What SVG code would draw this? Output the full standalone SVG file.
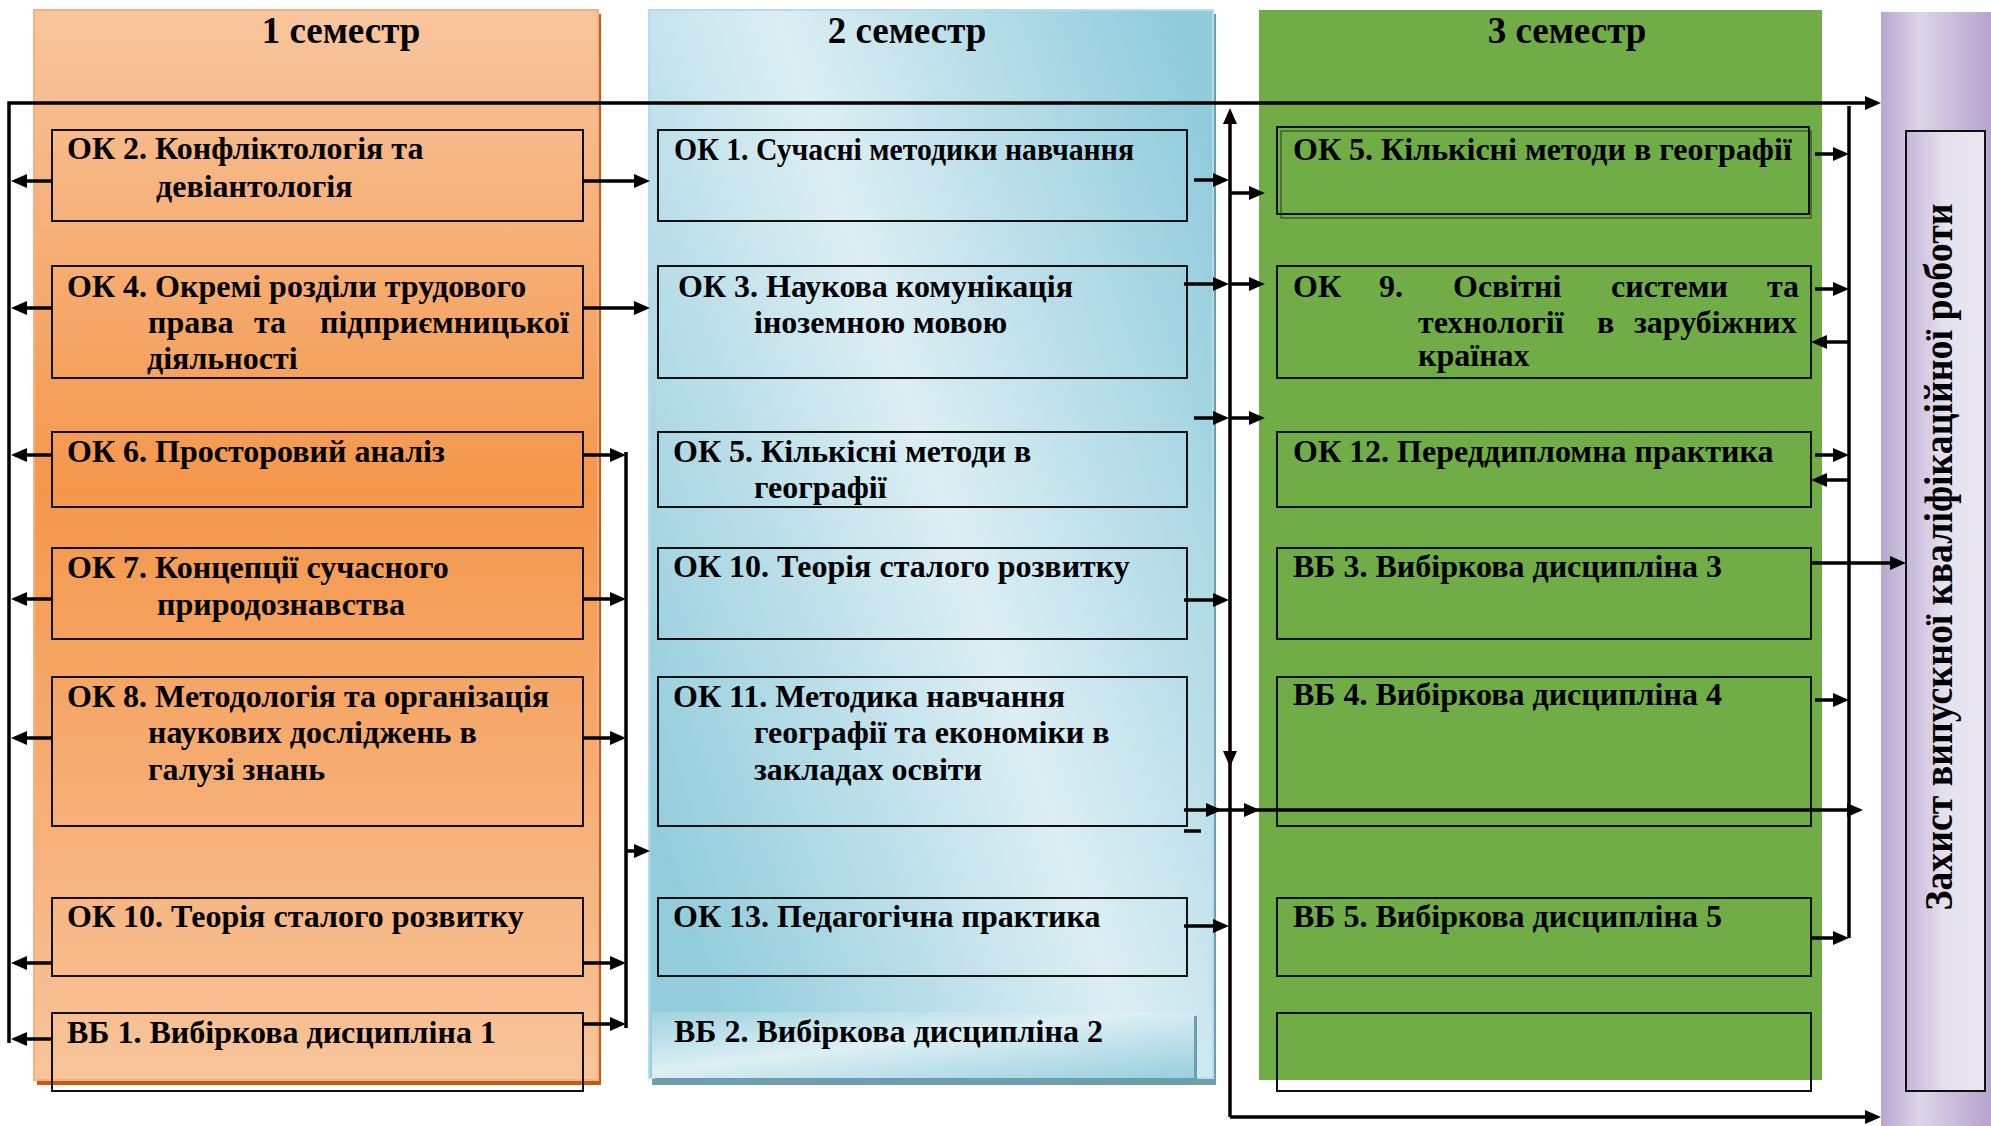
<svg xmlns="http://www.w3.org/2000/svg" width="1991" height="1126" viewBox="0 0 1991 1126">
<defs>
  <linearGradient id="gOrange" x1="0" y1="0" x2="0" y2="1">
    <stop offset="0" stop-color="#F8C59D"/>
    <stop offset="0.45" stop-color="#F4974B"/>
    <stop offset="1" stop-color="#F8C49B"/>
  </linearGradient>
  <linearGradient id="gBlue" x1="1" y1="0.1" x2="0" y2="0.75">
    <stop offset="0" stop-color="#8FCBDB"/>
    <stop offset="0.5" stop-color="#DCEEF4"/>
    <stop offset="1" stop-color="#93CDDC"/>
  </linearGradient>
  <linearGradient id="gBlueBox" x1="0" y1="0" x2="1" y2="1">
    <stop offset="0" stop-color="#9FD3E0"/>
    <stop offset="0.45" stop-color="#DDEFF4"/>
    <stop offset="1" stop-color="#98CFDE"/>
  </linearGradient>
  <linearGradient id="gPurple" x1="0" y1="0" x2="1" y2="0">
    <stop offset="0" stop-color="#B7A7CE"/>
    <stop offset="0.35" stop-color="#DCD5E8"/>
    <stop offset="1" stop-color="#B5A4CC"/>
  </linearGradient>
  <linearGradient id="gPurpleIn" x1="0" y1="0" x2="1" y2="0">
    <stop offset="0" stop-color="#C4B7D9"/>
    <stop offset="0.5" stop-color="#E6E1EE"/>
    <stop offset="1" stop-color="#E9E5F1"/>
  </linearGradient>
  <marker id="ah" markerUnits="userSpaceOnUse" markerWidth="16" markerHeight="14" refX="12" refY="7" orient="auto">
    <path d="M0,0 L16,7 L0,14 z" fill="#000"/>
  </marker>
  <style>
    .box { fill: none; stroke: #111; stroke-width: 2; }
    .t { font-family: "Liberation Serif", "Times New Roman", serif; font-weight: bold; font-size: 32px; fill: #000; }
    .title { font-family: "Liberation Serif", "Times New Roman", serif; font-weight: bold; font-size: 37px; fill: #000; text-anchor: middle; }
    .c { stroke: #000; stroke-width: 3.5; fill: none; }
    .a { marker-end: url(#ah); }
  </style>
</defs>

<rect width="1991" height="1126" fill="#fff"/>

<!-- Panels -->
<g id="panel-1">
  <rect x="37" y="14" width="564" height="1071" fill="#C55A11"/>
  <rect x="34" y="10" width="564" height="1070" fill="url(#gOrange)" stroke="#F4B183" stroke-width="2"/>
  <text class="title" x="341" y="43">1 семестр</text>
</g>
<g id="panel-2">
  <rect x="652" y="14" width="564" height="1071" fill="#6E9EAD"/>
  <rect x="649" y="10" width="564" height="1068" fill="url(#gBlue)" stroke="#B7DEE8" stroke-width="2"/>
  <text class="title" x="907" y="43">2 семестр</text>
</g>
<g id="panel-3">
  <rect x="1259" y="10" width="563" height="1070" fill="#70AD47"/>
  <text class="title" x="1567" y="43">3 семестр</text>
</g>
<g id="panel-4">
  <rect x="1881" y="12" width="110" height="1114" fill="url(#gPurple)"/>
  <rect x="1906" y="131" width="79" height="960" fill="url(#gPurpleIn)" stroke="#111" stroke-width="2"/>
  <text class="t" style="font-size:39px" text-anchor="middle" transform="translate(1952,557) rotate(-90)" textLength="707" lengthAdjust="spacingAndGlyphs">Захист випускної кваліфікаційної роботи</text>
</g>

<!-- Column 1 nodes -->
<g id="n-ok2">
  <rect class="box" x="52" y="130" width="531" height="91"/>
  <text class="t" x="67" y="159">ОК 2. Конфліктологія та</text>
  <text class="t" x="156" y="197">девіантологія</text>
</g>
<g id="n-ok4">
  <rect class="box" x="52" y="266" width="531" height="112"/>
  <text class="t" x="67" y="297">ОК 4. Окремі розділи трудового</text>
  <text class="t" y="333"><tspan x="148">права</tspan> <tspan x="254">та</tspan> <tspan x="320">підприємницької</tspan></text>
  <text class="t" x="147" y="369">діяльності</text>
</g>
<g id="n-ok6">
  <rect class="box" x="52" y="432" width="531" height="75"/>
  <text class="t" x="67" y="462">ОК 6. Просторовий аналіз</text>
</g>
<g id="n-ok7">
  <rect class="box" x="52" y="548" width="531" height="91"/>
  <text class="t" x="67" y="578">ОК 7. Концепції сучасного</text>
  <text class="t" x="157" y="615">природознавства</text>
</g>
<g id="n-ok8">
  <rect class="box" x="52" y="677" width="531" height="149"/>
  <text class="t" x="67" y="707">ОК 8. Методологія та організація</text>
  <text class="t" x="148" y="743">наукових досліджень в</text>
  <text class="t" x="148" y="780">галузі знань</text>
</g>
<g id="n-ok10-s1">
  <rect class="box" x="52" y="898" width="531" height="78"/>
  <text class="t" x="67" y="927">ОК 10. Теорія сталого розвитку</text>
</g>
<g id="n-vb1">
  <rect class="box" x="52" y="1013" width="531" height="78"/>
  <text class="t" x="67" y="1043">ВБ 1. Вибіркова дисципліна 1</text>
</g>

<!-- Column 2 nodes -->
<g id="n-ok1">
  <rect class="box" x="658" y="130" width="529" height="91"/>
  <text class="t" x="674" y="160" textLength="460" lengthAdjust="spacingAndGlyphs">ОК 1. Сучасні методики навчання</text>
</g>
<g id="n-ok3">
  <rect class="box" x="658" y="266" width="529" height="112"/>
  <text class="t" x="678" y="297">ОК 3. Наукова комунікація</text>
  <text class="t" x="754" y="333">іноземною мовою</text>
</g>
<g id="n-ok5-s2">
  <rect class="box" x="658" y="432" width="529" height="75"/>
  <text class="t" x="673" y="462">ОК 5. Кількісні методи в</text>
  <text class="t" x="754" y="498">географії</text>
</g>
<g id="n-ok10-s2">
  <rect class="box" x="658" y="548" width="529" height="91"/>
  <text class="t" x="673" y="577">ОК 10. Теорія сталого розвитку</text>
</g>
<g id="n-ok11">
  <rect class="box" x="658" y="677" width="529" height="149"/>
  <text class="t" x="673" y="707">ОК 11. Методика навчання</text>
  <text class="t" x="754" y="743">географії та економіки в</text>
  <text class="t" x="754" y="780">закладах освіти</text>
</g>
<g id="n-ok13">
  <rect class="box" x="658" y="898" width="529" height="78"/>
  <text class="t" x="673" y="927">ОК 13. Педагогічна практика</text>
</g>
<g id="n-vb2">
  <rect x="655" y="1016" width="542" height="68" fill="#6E9EAD"/>
  <rect x="652" y="1012" width="542" height="66" fill="url(#gBlueBox)"/>
  <text class="t" x="674" y="1042">ВБ 2. Вибіркова дисципліна 2</text>
</g>

<!-- Column 3 nodes -->
<g id="n-ok5-s3">
  <rect x="1281" y="131" width="530" height="87" fill="none" stroke="#3d5f2a" stroke-width="1.5"/>
  <rect class="box" x="1277" y="127" width="532" height="87"/>
  <text class="t" x="1293" y="160">ОК 5. Кількісні методи в географії</text>
</g>
<g id="n-ok9">
  <rect class="box" x="1277" y="266" width="534" height="112"/>
  <text class="t" y="297"><tspan x="1293">ОК</tspan> <tspan x="1379">9.</tspan> <tspan x="1453">Освітні</tspan> <tspan x="1611">системи</tspan> <tspan x="1767">та</tspan></text>
  <text class="t" y="333"><tspan x="1418">технології</tspan> <tspan x="1597">в</tspan> <tspan x="1634">зарубіжних</tspan></text>
  <text class="t" x="1418" y="366">країнах</text>
</g>
<g id="n-ok12">
  <rect class="box" x="1277" y="432" width="534" height="75"/>
  <text class="t" x="1293" y="462">ОК 12. Переддипломна практика</text>
</g>
<g id="n-vb3">
  <rect class="box" x="1277" y="548" width="534" height="91"/>
  <text class="t" x="1293" y="577">ВБ 3. Вибіркова дисципліна 3</text>
</g>
<g id="n-vb4">
  <rect class="box" x="1277" y="677" width="534" height="149"/>
  <text class="t" x="1293" y="705">ВБ 4. Вибіркова дисципліна 4</text>
</g>
<g id="n-vb5">
  <rect class="box" x="1277" y="898" width="534" height="78"/>
  <text class="t" x="1293" y="927">ВБ 5. Вибіркова дисципліна 5</text>
</g>
<g id="n-empty">
  <rect class="box" x="1277" y="1013" width="534" height="78"/>
</g>

<!-- Connectors -->
<g id="connectors">
  <path class="c a" d="M9,1043 V103 H1877"/>
  <path class="c a" d="M52,181 H15"/>
  <path class="c a" d="M52,308 H15"/>
  <path class="c a" d="M52,455 H15"/>
  <path class="c a" d="M52,599 H15"/>
  <path class="c a" d="M52,738 H15"/>
  <path class="c a" d="M52,963 H15"/>
  <path class="c a" d="M52,1039 H15"/>
  <path class="c a" d="M583,181 H646"/>
  <path class="c a" d="M583,308 H646"/>
  <path class="c a" d="M583,455 H622"/>
  <path class="c a" d="M583,599 H622"/>
  <path class="c a" d="M583,738 H622"/>
  <path class="c a" d="M583,963 H622"/>
  <path class="c a" d="M583,1024 H622"/>
  <path class="c" d="M626,452 V1028"/>
  <path class="c a" d="M626,851 H646"/>
  <path class="c a" d="M1194,180 H1225"/>
  <path class="c a" d="M1184,284 H1225"/>
  <path class="c a" d="M1194,418 H1225"/>
  <path class="c a" d="M1184,600 H1225"/>
  <path class="c a" d="M1184,926 H1225"/>
  <path class="c a" d="M1184,810 L1218,810 L1256,810 L1859,810" marker-mid="url(#ah)"/>
  <path class="c" d="M1184,831 H1201"/>
  <path class="c a" d="M1230,1117 V112"/>
  <polygon points="1223,751 1237,751 1230,767" fill="#000"/>
  <path class="c a" d="M1230,1117 H1877"/>
  <path class="c a" d="M1230,193 H1261"/>
  <path class="c a" d="M1230,284 H1261"/>
  <path class="c a" d="M1230,418 H1261"/>
  <path class="c" d="M1849,106 V938"/>
  <path class="c a" d="M1815,154 H1845"/>
  <path class="c a" d="M1815,289 H1845"/>
  <path class="c a" d="M1849,342 H1815"/>
  <path class="c a" d="M1815,455 H1845"/>
  <path class="c a" d="M1849,480 H1815"/>
  <path class="c a" d="M1811,563 H1902"/>
  <path class="c a" d="M1815,700 H1845"/>
  <path class="c a" d="M1811,938 H1845"/>
</g>
</svg>
